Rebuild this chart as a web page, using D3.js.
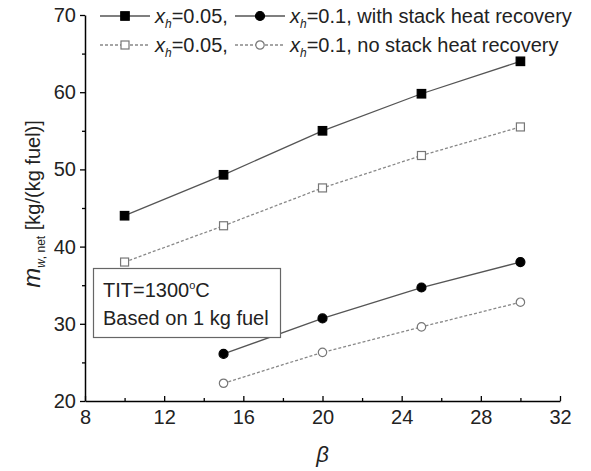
<!DOCTYPE html>
<html>
<head>
<meta charset="utf-8">
<script src="https://cdn.jsdelivr.net/npm/d3@7"></script>
<style>
  body { margin: 0; background: #fff; }
  svg text { font-family: "Liberation Sans", Arial, sans-serif; }
</style>
</head>
<body>
<div id="chart"></div>
<script>
// data
var beta = [10, 15, 20, 25, 30];
var betaB = [15, 20, 25, 30];
var sq_rec = [44.0, 49.3, 55.0, 59.8, 64.0];     // x_h=0.05, with stack heat recovery
var sq_norec = [38.0, 42.7, 47.6, 51.8, 55.5];   // x_h=0.05, no stack heat recovery
var ci_rec = [26.1, 30.7, 34.7, 38.0];           // x_h=0.1, with
var ci_norec = [22.3, 26.3, 29.6, 32.8];         // x_h=0.1, no
var xTicks = [8, 12, 16, 20, 24, 28, 32];
var yTicks = [20, 30, 40, 50, 60, 70];

var W = 591, H = 471;
var margin = {top: 15, right: 31, bottom: 70, left: 85},
    width = W - margin.left - margin.right,
    height = H - margin.top - margin.bottom;

var svg = d3.select("#chart").append("svg")
    .attr("width", W)
    .attr("height", H);
var g = svg.append("g")
    .attr("transform", "translate(" + margin.left + "," + margin.top + ")");

var x = d3.scaleLinear().domain([8, 32]).range([0, width]);
var y = d3.scaleLinear().domain([20, 70]).range([height, 0]);

// minor ticks
g.append("g")
  .call(d3.axisLeft(y).tickValues(d3.range(25, 70, 10)).tickSize(3).tickFormat(""))
  .call(function(a) { a.select(".domain").remove(); })
  .selectAll("line").attr("stroke-width", 1.3);
g.append("g")
  .attr("transform", "translate(0," + height + ")")
  .call(d3.axisTop(x).tickValues(d3.range(10, 32, 4)).tickSize(3).tickFormat(""))
  .call(function(a) { a.select(".domain").remove(); })
  .selectAll("line").attr("stroke-width", 1.3);

// main axes
var yAxis = g.append("g")
  .call(d3.axisLeft(y).tickValues(yTicks).tickSize(5).tickSizeOuter(0).tickPadding(4));
var xAxis = g.append("g")
  .attr("transform", "translate(0," + height + ")")
  .call(d3.axisBottom(x).tickValues(xTicks).tickSize(0).tickSizeOuter(0).tickPadding(9));
g.append("g")
  .attr("transform", "translate(0," + height + ")")
  .call(d3.axisTop(x).tickValues(xTicks).tickSize(5).tickFormat(""))
  .call(function(a) { a.select(".domain").remove(); })
  .selectAll("line").attr("stroke-width", 1.3);

[yAxis, xAxis].forEach(function(a) {
  a.select(".domain").attr("stroke-width", 1.5);
  a.selectAll("line").attr("stroke-width", 1.3);
  a.selectAll("text").attr("font-size", 20).attr("fill", "#222")
    .style("font-family", "Liberation Sans, Arial, sans-serif");
});

var line = d3.line().x(function(d) { return x(d[0]); }).y(function(d) { return y(d[1]); });

var series = [
  {xs: beta, ys: sq_rec, shape: "square", filled: true},
  {xs: beta, ys: sq_norec, shape: "square", filled: false},
  {xs: betaB, ys: ci_rec, shape: "circle", filled: true},
  {xs: betaB, ys: ci_norec, shape: "circle", filled: false}
];

function drawMarker(sel, shape, filled) {
  if (shape === "square") {
    var s = filled ? 8.5 : 8;
    sel.append("rect")
      .attr("x", -s / 2).attr("y", -s / 2).attr("width", s).attr("height", s)
      .attr("fill", filled ? "#000" : "#fff")
      .attr("stroke", filled ? "#000" : "#777")
      .attr("stroke-width", 1.2);
  } else {
    sel.append("circle")
      .attr("r", filled ? 4.5 : 4.2)
      .attr("fill", filled ? "#000" : "#fff")
      .attr("stroke", filled ? "#000" : "#777")
      .attr("stroke-width", 1.2);
  }
}

series.forEach(function(s) {
  var pts = s.xs.map(function(b, i) { return [b, s.ys[i]]; });
  g.append("path")
    .datum(pts)
    .attr("d", line)
    .attr("fill", "none")
    .attr("stroke", s.filled ? "#555" : "#888")
    .attr("stroke-width", 1.3)
    .attr("stroke-dasharray", s.filled ? null : "3,2");
  g.selectAll(null)
    .data(pts)
    .enter().append("g")
    .attr("transform", function(d) { return "translate(" + x(d[0]) + "," + y(d[1]) + ")"; })
    .each(function() { drawMarker(d3.select(this), s.shape, s.filled); });
});

// legend
var legendRows = [
  {y: 16, filled: true, tail: "=0.1, with stack heat recovery"},
  {y: 45, filled: false, tail: "=0.1, no stack heat recovery"}
];
legendRows.forEach(function(r) {
  var lg = svg.append("g");
  [[100, 150, "square", "=0.05,", 155], [235, 285, "circle", r.tail, 290]].forEach(function(it) {
    lg.append("line")
      .attr("x1", it[0]).attr("x2", it[1]).attr("y1", r.y).attr("y2", r.y)
      .attr("stroke", r.filled ? "#555" : "#888")
      .attr("stroke-width", 1.3)
      .attr("stroke-dasharray", r.filled ? null : "3,2");
    var m = lg.append("g").attr("transform", "translate(" + ((it[0] + it[1]) / 2) + "," + r.y + ")");
    drawMarker(m, it[2], r.filled);
    var t = lg.append("text").attr("x", it[4]).attr("y", r.y + 7)
      .attr("font-size", 20).attr("fill", "#222");
    t.append("tspan").attr("font-style", "italic").text("x");
    t.append("tspan").attr("font-style", "italic").attr("font-size", 12).attr("dy", 5).text("h");
    t.append("tspan").attr("dy", -5).text(it[3]);
  });
});

// annotation box
svg.append("rect")
  .attr("x", 93.5).attr("y", 268.5).attr("width", 187).attr("height", 69)
  .attr("fill", "#fff").attr("stroke", "#666").attr("stroke-width", 1.2);
var a1 = svg.append("text").attr("x", 103).attr("y", 297).attr("font-size", 20).attr("fill", "#222");
a1.append("tspan").text("TIT=1300");
a1.append("tspan").attr("font-size", 11).attr("dy", -8).text("o");
a1.append("tspan").attr("dy", 8).text("C");
svg.append("text").attr("x", 103).attr("y", 325).attr("font-size", 20).attr("fill", "#222")
  .text("Based on 1 kg fuel");

// axis titles
svg.append("text")
  .attr("x", margin.left + x(20)).attr("y", 462)
  .attr("text-anchor", "middle").attr("font-size", 22).attr("font-style", "italic").attr("fill", "#222")
  .text("β");

var yl = svg.append("text")
  .attr("transform", "translate(40," + (margin.top + height / 2 - 4) + ") rotate(-90)")
  .attr("text-anchor", "middle").attr("font-size", 20).attr("fill", "#222");
yl.append("tspan").attr("font-style", "italic").attr("font-size", 24).text("m");
yl.append("tspan").attr("font-style", "italic").attr("font-size", 12).attr("dy", 5).text("w");
yl.append("tspan").attr("font-size", 12).text(", net");
yl.append("tspan").attr("dy", -5).text(" [kg/(kg fuel)]");
</script>
</body>
</html>
